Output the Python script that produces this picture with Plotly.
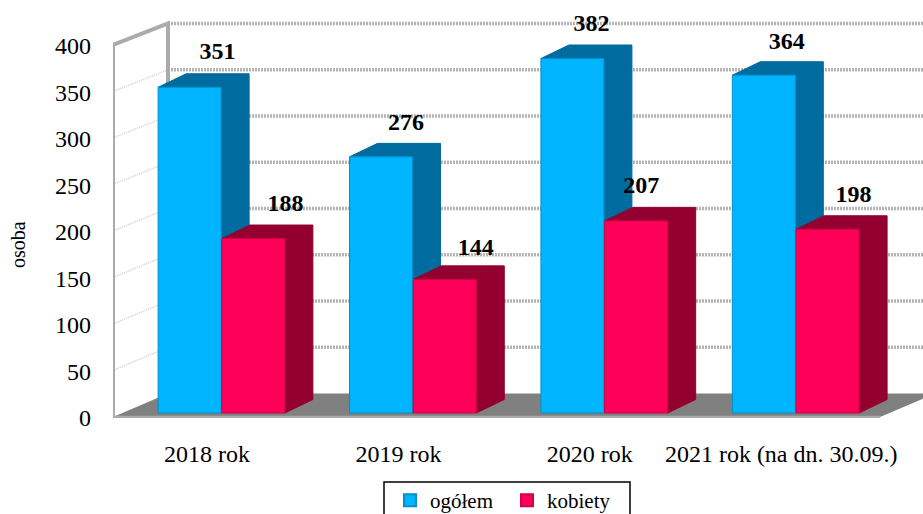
import plotly.graph_objects as go

# --- data ---
categories = ["2018 rok", "2019 rok", "2020 rok", "2021 rok (na dn. 30.09.)"]
ogolem = [351, 276, 382, 364]
kobiety = [188, 144, 207, 198]
y_ticks = [0, 50, 100, 150, 200, 250, 300, 350, 400]
grid_levels = [50, 100, 150, 200, 250, 300, 350, 400]
wall_grid_levels = [50, 100, 150, 200, 250, 300, 350]
label_dx_ogolem = [28, 25, 19, 23]
label_dx_kobiety = [32, 31, 5, 26]
label_dy_ogolem = [34, 33, 34, 32]
label_dy_kobiety = [34, 30, 34, 33]

# --- geometry of the oblique projection (pixels) ---
W, H = 923, 514
L, B = 113, 418
GROUP_PX = 191.4
X0_PX = 221.5
SCALE_AXIS = 0.93
SCALE_BAR = 0.928
BASE_BAR_PX = 413
BACK_BASE_PX = 393.5
BACK_SCALE = 0.925
BAR_W = 63 / GROUP_PX
BAR_DX = 28 / GROUP_PX
BAR_DY = 13.5 / SCALE_BAR
BACK_DX = 55 / GROUP_PX
x_left = (L - X0_PX) / GROUP_PX
x_right = (W - X0_PX) / GROUP_PX
y_range = [0, B / SCALE_AXIS]
bar_range = [(BASE_BAR_PX - B) / SCALE_BAR, BASE_BAR_PX / SCALE_BAR]
idx = list(range(len(categories)))
x_blue = [i - BAR_W / 2 - 0.002 for i in idx]
x_red = [i + BAR_W / 2 + 0.002 for i in idx]


def back_y(v):
    return (B - BACK_BASE_PX + BACK_SCALE * v) / SCALE_AXIS


def front_y(v):
    return v + (B - 417) / SCALE_AXIS


def side_polys(xs, vals):
    px, py = [], []
    for x, v in zip(xs, vals):
        xl, xr = x - BAR_W / 2, x + BAR_W / 2
        px += [xl, xl + BAR_DX, xr + BAR_DX, xr + BAR_DX, xr, xr, xl, None]
        py += [v, v + BAR_DY, v + BAR_DY, BAR_DY, 0, v, v, None]
    return px, py


GREY = "#ABABAB"
SERIF = "Liberation Serif"
fig = go.Figure()

# floor
floor_front_r = (880 - X0_PX) / GROUP_PX
fig.add_trace(go.Scatter(
    x=[x_left, x_left + BACK_DX, floor_front_r + BACK_DX, floor_front_r, x_left],
    y=[front_y(0), back_y(0), back_y(0), front_y(0), front_y(0)],
    mode="lines", fill="toself", fillcolor="#808080", line=dict(width=0),
    showlegend=False, hoverinfo="skip"))
# back wall grid
gx, gy = [], []
for v in grid_levels:
    gx += [x_left + BACK_DX, x_right, None]
    gy += [back_y(v), back_y(v), None]
fig.add_trace(go.Scatter(x=gx, y=gy, mode="lines",
                         line=dict(color="#B4B4B4", width=3.5, dash="2px,1px"),
                         showlegend=False, hoverinfo="skip"))
# side wall grid
wx, wy = [], []
for v in wall_grid_levels:
    wx += [x_left, x_left + BACK_DX, None]
    wy += [front_y(v), back_y(v), None]
fig.add_trace(go.Scatter(x=wx, y=wy, mode="lines",
                         line=dict(color="#CFCFCF", width=1.5, dash="1px,1px"),
                         showlegend=False, hoverinfo="skip"))
# wall frame
fig.add_trace(go.Scatter(
    x=[x_left + BACK_DX, x_left + BACK_DX, x_left, x_left],
    y=[back_y(0), back_y(400), front_y(400), front_y(0)],
    mode="lines", line=dict(color=GREY, width=4), showlegend=False, hoverinfo="skip"))
fig.add_trace(go.Scatter(
    x=[x_left, floor_front_r], y=[front_y(0), front_y(0)],
    mode="lines", line=dict(color=GREY, width=2.5), showlegend=False, hoverinfo="skip"))

# side + top faces
bx, by = side_polys(x_blue, ogolem)
fig.add_trace(go.Scatter(x=bx, y=by, yaxis="y2", mode="lines", fill="toself",
                         fillcolor="#006B9F", line=dict(color="#006B9F", width=1),
                         showlegend=False, hoverinfo="skip"))
rx, ry = side_polys(x_red, kobiety)
fig.add_trace(go.Scatter(x=rx, y=ry, yaxis="y2", mode="lines", fill="toself",
                         fillcolor="#930030", line=dict(color="#930030", width=1),
                         showlegend=False, hoverinfo="skip"))

# front faces
fig.add_trace(go.Bar(x=x_blue, y=ogolem, width=BAR_W, yaxis="y3", name="ogółem",
                     marker=dict(color="#00B4FF", line=dict(color="#0090CC", width=1))))
fig.add_trace(go.Bar(x=x_red, y=kobiety, width=BAR_W, yaxis="y3", name="kobiety",
                     marker=dict(color="#FF0058", line=dict(color="#D00048", width=1))))

# value labels
lab_x = [x + d / GROUP_PX for x, d in zip(x_blue, label_dx_ogolem)] + \
        [x + d / GROUP_PX for x, d in zip(x_red, label_dx_kobiety)]
lab_v = ogolem + kobiety
lab_dy = label_dy_ogolem + label_dy_kobiety
fig.add_trace(go.Scatter(
    x=lab_x, y=[v + d / SCALE_BAR for v, d in zip(lab_v, lab_dy)], yaxis="y3", mode="text",
    text=[str(v) for v in lab_v], textposition="middle center", cliponaxis=False,
    textfont=dict(family=SERIF, size=24, color="black", weight="bold"),
    showlegend=False, hoverinfo="skip"))

fig.update_layout(
    width=W, height=H, margin=dict(l=L, r=0, t=0, b=H - B, autoexpand=False),
    plot_bgcolor="white", paper_bgcolor="white", barmode="overlay",
    font=dict(family=SERIF, color="black"),
    xaxis=dict(range=[x_left, x_right], tickmode="array",
               tickvals=[i - 14.5 / GROUP_PX for i in idx], ticktext=categories,
               showgrid=False, zeroline=False, showline=False, ticks="",
               ticklabelstandoff=19, tickfont=dict(size=24), tickangle=0),
    yaxis=dict(range=y_range, tickmode="array", tickvals=y_ticks,
               showgrid=False, zeroline=False, showline=False, ticks="",
               ticklabelstandoff=21, tickfont=dict(size=24)),
    yaxis2=dict(range=bar_range, overlaying="y", visible=False),
    yaxis3=dict(range=bar_range, overlaying="y", visible=False),
    legend=dict(orientation="h", xref="paper", yref="paper",
                x=(390 - L) / (W - L), y=(B - 480) / B, xanchor="left", yanchor="top",
                bgcolor="rgba(0,0,0,0)", font=dict(size=21), itemsizing="constant",
                entrywidth=72, entrywidthmode="pixels", traceorder="normal"),
    shapes=[dict(type="rect", xref="paper", yref="paper",
                 x0=(384 - L) / (W - L), x1=(630 - L) / (W - L),
                 y0=(B - 560) / B, y1=(B - 482) / B,
                 line=dict(color="black", width=1.5))],
    annotations=[dict(text="osoba", xref="paper", yref="paper", showarrow=False,
                      x=(18 - L) / (W - L), y=(B - 245) / B, textangle=-90,
                      xanchor="center", yanchor="middle", font=dict(size=20))],
)

fig.write_html("out.html", config={"displayModeBar": False},
               post_script="document.body.style.margin='0';document.documentElement.style.overflow='hidden';window.dispatchEvent(new Event('resize'));")
